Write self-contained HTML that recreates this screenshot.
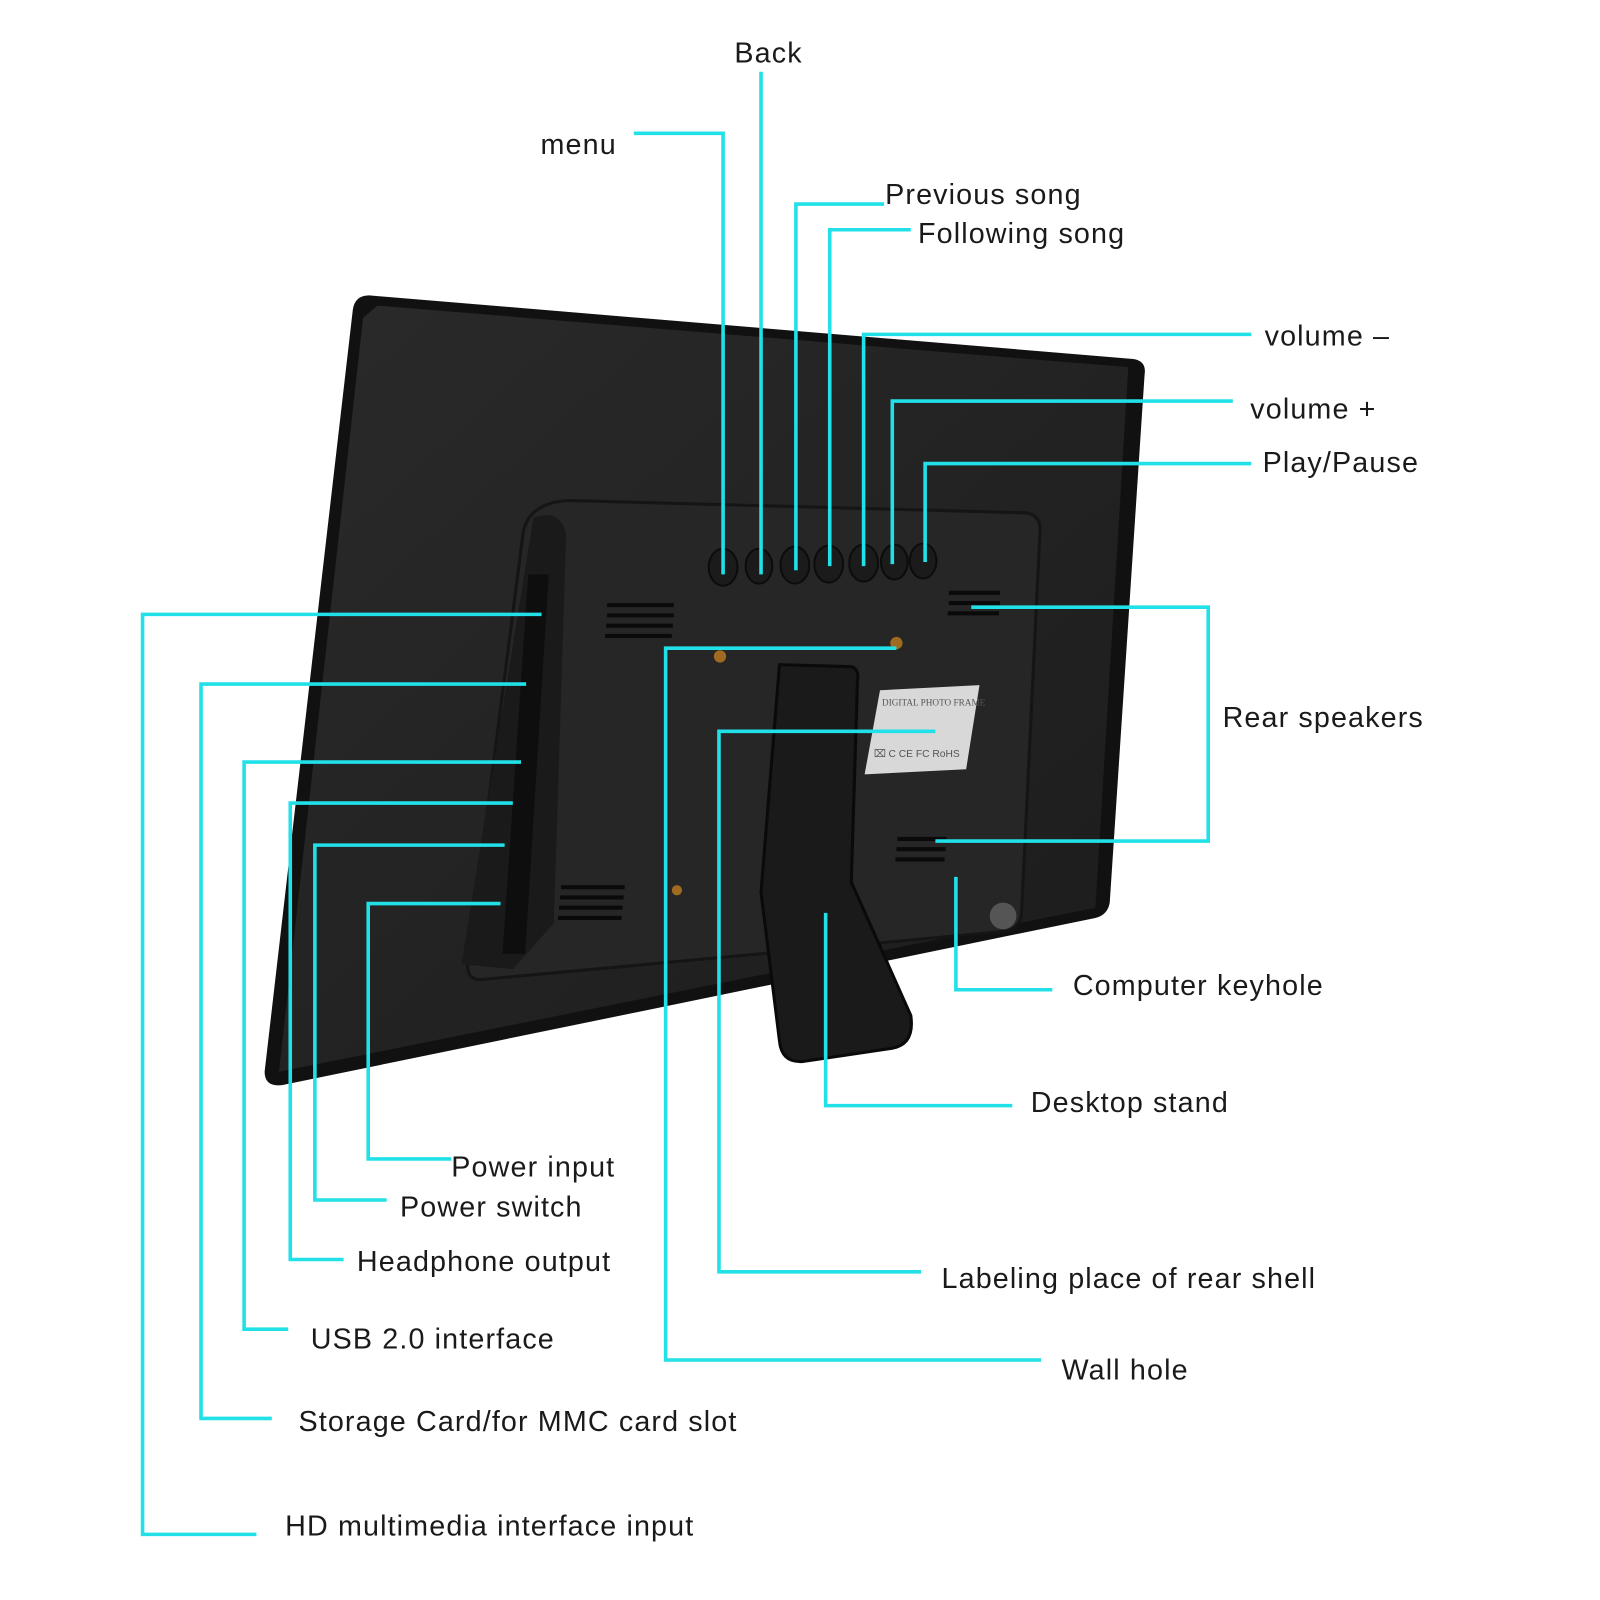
<!DOCTYPE html>
<html><head><style>
html,body{margin:0;padding:0;background:#fff;}
svg{display:block}
text{font-family:"Liberation Sans",sans-serif;font-size:28px;fill:#1a1a1a;letter-spacing:1.1px}
</style></head><body>
<svg width="1600" height="1600" viewBox="0 0 1560 1560">
<defs>
<linearGradient id="fr" x1="0" y1="0" x2="1" y2="1">
<stop offset="0" stop-color="#2a2a2a"/><stop offset="1" stop-color="#1c1c1c"/>
</linearGradient>
</defs>
<path d="M360,288 L1105,350 Q1118,352 1116,365 L1082,880 Q1080,892 1068,895 L275,1058 Q258,1060 258,1045 L344,302 Q346,288 360,288 Z" fill="#111"/>
<path d="M368,298 L1100,358 L1068,885 L272,1045 L354,310 Z" fill="url(#fr)"/>
<path d="M555,488 L1000,500 Q1015,502 1014,518 L996,890 Q995,905 980,908 L470,955 Q455,956 456,940 L510,520 Q515,490 555,488 Z" fill="#262626" stroke="#151515" stroke-width="3"/>
<path d="M520,505 Q545,495 552,520 L540,900 L500,945 L450,940 Z" fill="#1a1a1a"/>
<path d="M515,560 L535,560 L512,930 L490,930 Z" fill="#0e0e0e"/>
<g fill="#1b1b1b" stroke="#0c0c0c" stroke-width="2">
<ellipse cx="705" cy="553" rx="14" ry="18"/><ellipse cx="740" cy="552" rx="13" ry="17"/>
<ellipse cx="775" cy="551" rx="14" ry="18"/><ellipse cx="808" cy="550" rx="14" ry="18"/>
<ellipse cx="842" cy="549" rx="14" ry="18"/><ellipse cx="872" cy="548" rx="13" ry="17"/>
<ellipse cx="900" cy="547" rx="13" ry="17"/>
</g>
<g stroke="#0a0a0a" stroke-width="4">
<path d="M592,590h65M592,600h65M591,610h65M590,620h65"/>
<path d="M925,578h50M925,588h50M924,598h50"/>
<path d="M547,865h62M546,875h62M545,885h62M544,895h62"/>
<path d="M875,818h48M874,828h48M873,838h48"/>
</g>
<path d="M760,648 L830,650 Q838,652 836,665 L830,860 L888,990 Q892,1018 870,1022 L782,1035 Q762,1036 760,1015 L742,870 Z" fill="#1a1a1a" stroke="#0a0a0a" stroke-width="3"/>
<circle cx="702" cy="640" r="6" fill="#a06a20"/><circle cx="874" cy="627" r="6" fill="#a06a20"/><circle cx="660" cy="868" r="5" fill="#a06a20"/>
<circle cx="978" cy="893" r="13" fill="#555"/>
<path d="M858,673 L955,668 L942,750 L843,755 Z" fill="#d8d8d8"/>
<text x="860" y="688" style="font-size:9px;fill:#555;font-family:'Liberation Serif',serif;letter-spacing:0">DIGITAL PHOTO FRAME</text>
<text x="852" y="738" style="font-size:10px;fill:#555;letter-spacing:0">⌧ C CE FC RoHS</text>
<g fill="none" stroke="#22e0e8" stroke-width="3.5">
<path d="M618,130 H705 V560"/>
<path d="M742,70 V560"/>
<path d="M862,199 H776 V556"/>
<path d="M888,224 H809 V552"/>
<path d="M1220,326 H842 V552"/>
<path d="M1202,391 H870 V550"/>
<path d="M1220,452 H902 V548"/>
<path d="M947,592 H1178 V820 H912"/>
<path d="M874,632 H649 V1326 H1015"/>
<path d="M912,713 H701 V1240 H898"/>
<path d="M805,890 V1078 H987"/>
<path d="M932,855 V965 H1026"/>
<path d="M528,599 H139 V1496 H250"/>
<path d="M513,667 H196 V1383 H265"/>
<path d="M508,743 H238 V1296 H281"/>
<path d="M500,783 H283 V1228 H335"/>
<path d="M492,824 H307 V1170 H377"/>
<path d="M488,881 H359 V1130 H440"/>
</g>
<text x="716" y="61">Back</text>
<text x="527" y="150">menu</text>
<text x="863" y="199">Previous song</text>
<text x="895" y="237">Following song</text>
<text x="1233" y="337">volume –</text>
<text x="1219" y="408">volume +</text>
<text x="1231" y="460">Play/Pause</text>
<text x="1192" y="709">Rear speakers</text>
<text x="1046" y="970">Computer keyhole</text>
<text x="1005" y="1084">Desktop stand</text>
<text x="918" y="1256">Labeling place of rear shell</text>
<text x="1035" y="1345">Wall hole</text>
<text x="440" y="1147">Power input</text>
<text x="390" y="1186">Power switch</text>
<text x="348" y="1239">Headphone output</text>
<text x="303" y="1315">USB 2.0 interface</text>
<text x="291" y="1395">Storage Card/for MMC card slot</text>
<text x="278" y="1497">HD multimedia interface input</text>
</svg>
</body></html>
